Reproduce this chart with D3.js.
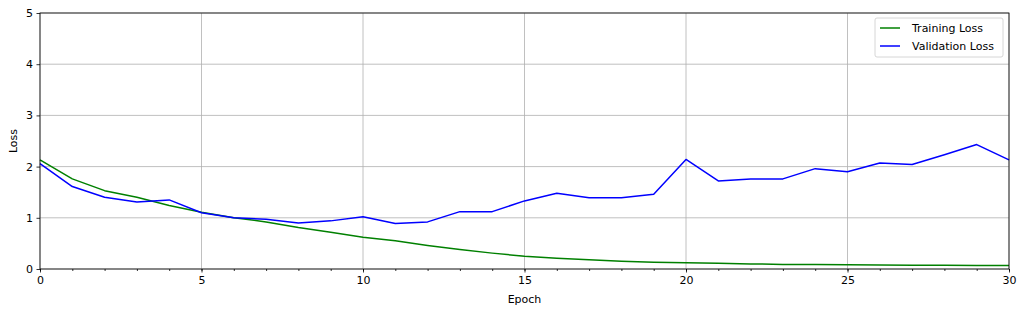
<!DOCTYPE html>
<html>
<head>
<meta charset="utf-8">
<script src="https://cdn.jsdelivr.net/npm/d3@7"></script>
<style>
  body { margin: 0; background: #fff; }
  svg { font-family: "DejaVu Sans", sans-serif; }
</style>
</head>
<body>
<svg id="chart" width="1024" height="313"></svg>
<script>
// data
var epochs = d3.range(0, 31);
var trainingLoss = [2.13, 1.76, 1.53, 1.40, 1.24, 1.11, 1.00, 0.92, 0.81, 0.72,
                    0.62, 0.55, 0.46, 0.38, 0.31, 0.25, 0.21, 0.18, 0.15, 0.13,
                    0.12, 0.11, 0.10, 0.09, 0.09, 0.085, 0.08, 0.075, 0.075, 0.07, 0.07];
var validationLoss = [2.06, 1.61, 1.40, 1.31, 1.35, 1.10, 1.00, 0.97, 0.90, 0.94,
                      1.02, 0.89, 0.92, 1.12, 1.12, 1.33, 1.48, 1.39, 1.39, 1.46,
                      2.14, 1.72, 1.76, 1.76, 1.96, 1.90, 2.07, 2.04, 2.23, 2.43, 2.13];
var xTicks = [0, 5, 10, 15, 20, 25, 30];
var yTicks = [0, 1, 2, 3, 4, 5];
var seriesNames = ["Training Loss", "Validation Loss"];
var seriesColors = ["green", "blue"];

var plotLeft = 40, plotRight = 1009, plotTop = 13, plotBottom = 269;
var fontSize = 11;

var svg = d3.select("#chart");

// Create scale functions
var xScale = d3.scaleLinear().domain([0, 30]).range([plotLeft, plotRight]);
var yScale = d3.scaleLinear().domain([0, 5]).range([plotBottom, plotTop]);

// grid
var grid = svg.append("g").attr("stroke", "#b0b0b0").attr("stroke-width", 0.8);
grid.selectAll("line.gx").data(xTicks).enter().append("line")
    .attr("x1", d => xScale(d)).attr("x2", d => xScale(d))
    .attr("y1", plotTop).attr("y2", plotBottom);
grid.selectAll("line.gy").data(yTicks).enter().append("line")
    .attr("y1", d => yScale(d)).attr("y2", d => yScale(d))
    .attr("x1", plotLeft).attr("x2", plotRight);

// lines
var series = [trainingLoss, validationLoss];
var line = d3.line().x((d, i) => xScale(epochs[i])).y(d => yScale(d));
series.forEach(function(s, k) {
    svg.append("path")
        .datum(s)
        .attr("fill", "none")
        .attr("stroke", seriesColors[k])
        .attr("stroke-width", 1.5)
        .attr("stroke-linejoin", "round")
        .attr("d", line);
});

// axes
var xAxis = d3.axisBottom(xScale).tickValues(xTicks).tickSize(3.5).tickPadding(3.5);
var xMinor = d3.axisBottom(xScale).tickValues(epochs).tickSize(2).tickFormat("");
var yAxis = d3.axisLeft(yScale).tickValues(yTicks).tickFormat(d3.format("d"))
    .tickSize(3.5).tickPadding(3.5);

var gx = svg.append("g").attr("transform", "translate(0," + plotBottom + ")").call(xAxis);
svg.append("g").attr("transform", "translate(0," + plotBottom + ")").call(xMinor)
    .call(g => g.select(".domain").remove());
var gy = svg.append("g").attr("transform", "translate(" + plotLeft + ",0)").call(yAxis);
[gx, gy].forEach(function(g) {
    g.select(".domain").remove();
    g.selectAll("text").attr("font-size", fontSize).attr("fill", "#000")
        .attr("font-family", "DejaVu Sans, sans-serif");
});
svg.selectAll(".tick line").attr("stroke", "#000").attr("stroke-width", 0.8);

// frame
svg.append("rect")
    .attr("x", plotLeft).attr("y", plotTop)
    .attr("width", plotRight - plotLeft).attr("height", plotBottom - plotTop)
    .attr("fill", "none").attr("stroke", "#000").attr("stroke-width", 0.8);

// axis labels
svg.append("text").attr("x", (plotLeft + plotRight) / 2).attr("y", 303)
    .attr("text-anchor", "middle").attr("font-size", fontSize).text("Epoch");
svg.append("text").attr("transform", "translate(17," + ((plotTop + plotBottom) / 2) + ") rotate(-90)")
    .attr("text-anchor", "middle").attr("font-size", fontSize).text("Loss");

// legend
var legend = svg.append("g").attr("transform", "translate(875,18)");
legend.append("rect").attr("width", 128).attr("height", 39).attr("rx", 2)
    .attr("fill", "#fff").attr("fill-opacity", 0.8)
    .attr("stroke", "#cccccc").attr("stroke-width", 0.8);
seriesNames.forEach(function(name, k) {
    var y = 10 + k * 18;
    legend.append("line").attr("x1", 5).attr("x2", 25).attr("y1", y).attr("y2", y)
        .attr("stroke", seriesColors[k]).attr("stroke-width", 1.5);
    legend.append("text").attr("x", 37).attr("y", y + 4)
        .attr("font-size", fontSize).text(name);
});
</script>
</body>
</html>
